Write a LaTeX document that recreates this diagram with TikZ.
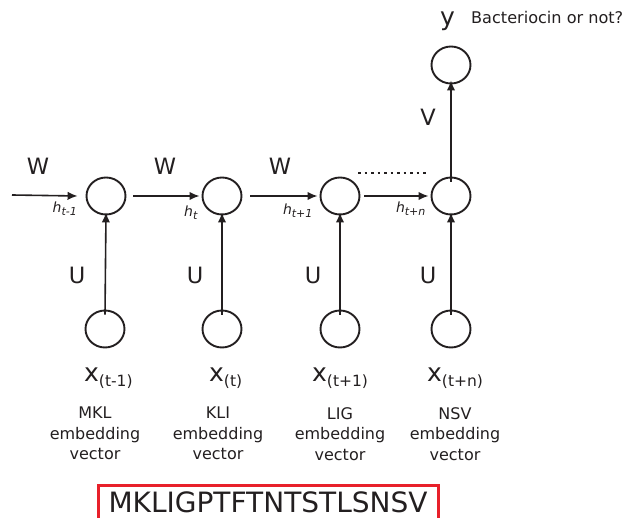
\documentclass[tikz,border=0pt]{standalone}
\usepackage{fontspec}
\setmainfont{DejaVu Sans}
\usetikzlibrary{arrows.meta,shapes.geometric}
\definecolor{ink}{HTML}{231F20}
\definecolor{boxred}{HTML}{E8202A}
\begin{document}
\begin{tikzpicture}[x=1pt,y=-1pt,
  unit/.style={ellipse, draw=ink, line width=1.9pt, minimum width=39pt, minimum height=37pt, inner sep=0pt},
  conn/.style={draw=ink, line width=1.6pt, -{Latex[length=10pt,width=8.5pt]}},
  big/.style={text=ink, font=\fontsize{22.5}{26}\selectfont, inner sep=0pt},
  hlab/.style={text=ink, font=\fontsize{14}{16}\selectfont\itshape, inner sep=0pt},
  xlab/.style={text=ink, font=\fontsize{25}{29}\selectfont, inner sep=0pt, anchor=base west},
  emb/.style={text=ink, font=\fontsize{16}{20.5}\selectfont, align=center, inner sep=0pt, anchor=north}]
\path[use as bounding box] (0,0) rectangle (625,518);
% hidden units
\node[unit] (h1) at (106,196) {};
\node[unit] (h2) at (222,196) {};
\node[unit] (h3) at (340,196) {};
\node[unit] (h4) at (451,196) {};
\node[unit] (o) at (451,65) {};
% inputs
\node[unit] (x1) at (105,329) {};
\node[unit] (x2) at (222,329) {};
\node[unit] (x3) at (340,329) {};
\node[unit] (x4) at (451,329) {};
\coordinate (in) at (12,195);
% connectors
\draw[conn] (in) -- ([xshift=-8pt]h1.west);
\draw[conn] ([xshift=7pt]h1.east) -- ([xshift=-2pt]h2.west);
\draw[conn] ([xshift=8pt]h2.east) -- ([xshift=-2pt]h3.west);
\draw[conn] ([xshift=4pt]h3.east) -- ([xshift=-2pt]h4.west);
\draw[conn] ([yshift=-5pt]h4.north) -- ([yshift=4pt]o.south);
\foreach \i in {1,2,3,4}{
  \draw[conn] ([yshift=-5pt]x\i.north) -- ([yshift=3pt]h\i.south);
}
% dots
\coordinate (d1) at (358,173);
\coordinate (d2) at (428,173);
\draw[ink, line width=2.6pt, dash pattern=on 2.6pt off 3.9pt] (d1) -- (d2);
% W labels
\node[big] (w1) at (38,166) {W};
\node[big] (w2) at (165,166) {W};
\node[big] (w3) at (280,166) {W};
% U labels
\node[big] (u1) at (77,275) {U};
\node[big] (u2) at (195,275) {U};
\node[big] (u3) at (313,275) {U};
\node[big] (u4) at (428,275) {U};
% V label
\node[big] (v) at (428,117) {V};
% h labels
\node[hlab] (l1) at (65,209) {h\textsubscript{\fontsize{11}{12}\selectfont t-1}};
\node[hlab] (l2) at (191,213) {h\textsubscript{\fontsize{11}{12}\selectfont t}};
\node[hlab] (l3) at (298,211) {h\textsubscript{\fontsize{11}{12}\selectfont t+1}};
\node[hlab] (l4) at (411,209) {h\textsubscript{\fontsize{11}{12}\selectfont t+n}};
% y and output text
\node[xlab] (y) at (440,26) {y};
\node[text=ink, font=\fontsize{16.1}{18}\selectfont, anchor=base west, inner sep=0pt] (bq) at (471,24) {Bacteriocin or not?};
% x labels
\node[xlab] (t1) at (84,382) {x\raisebox{-5pt}{\fontsize{15.5}{17}\selectfont (t-1)}};
\node[xlab] (t2) at (209,382) {x\raisebox{-5pt}{\fontsize{15.5}{17}\selectfont (t)}};
\node[xlab] (t3) at (312,382) {x\raisebox{-5pt}{\fontsize{15.5}{17}\selectfont (t+1)}};
\node[xlab] (t4) at (427,382) {x\raisebox{-5pt}{\fontsize{15.5}{17}\selectfont (t+n)}};
% embedding labels
\node[emb] (e1) at (95,407) {MKL\\embedding\\vector};
\node[emb] (e2) at (218,407) {KLI\\embedding\\vector};
\node[emb] (e3) at (340,407) {LIG\\embedding\\vector};
\node[emb] (e4) at (455,407) {NSV\\embedding\\vector};
% sequence box
\draw[boxred, line width=3pt] (98,530) -- (98,486) -- (438,486) -- (438,530);
\node[text=ink, font=\fontsize{28}{32}\selectfont, inner sep=0pt] (seq) at (268,502) {MKLIGPTFTNTSTLSNSV};
\end{tikzpicture}
\end{document}
